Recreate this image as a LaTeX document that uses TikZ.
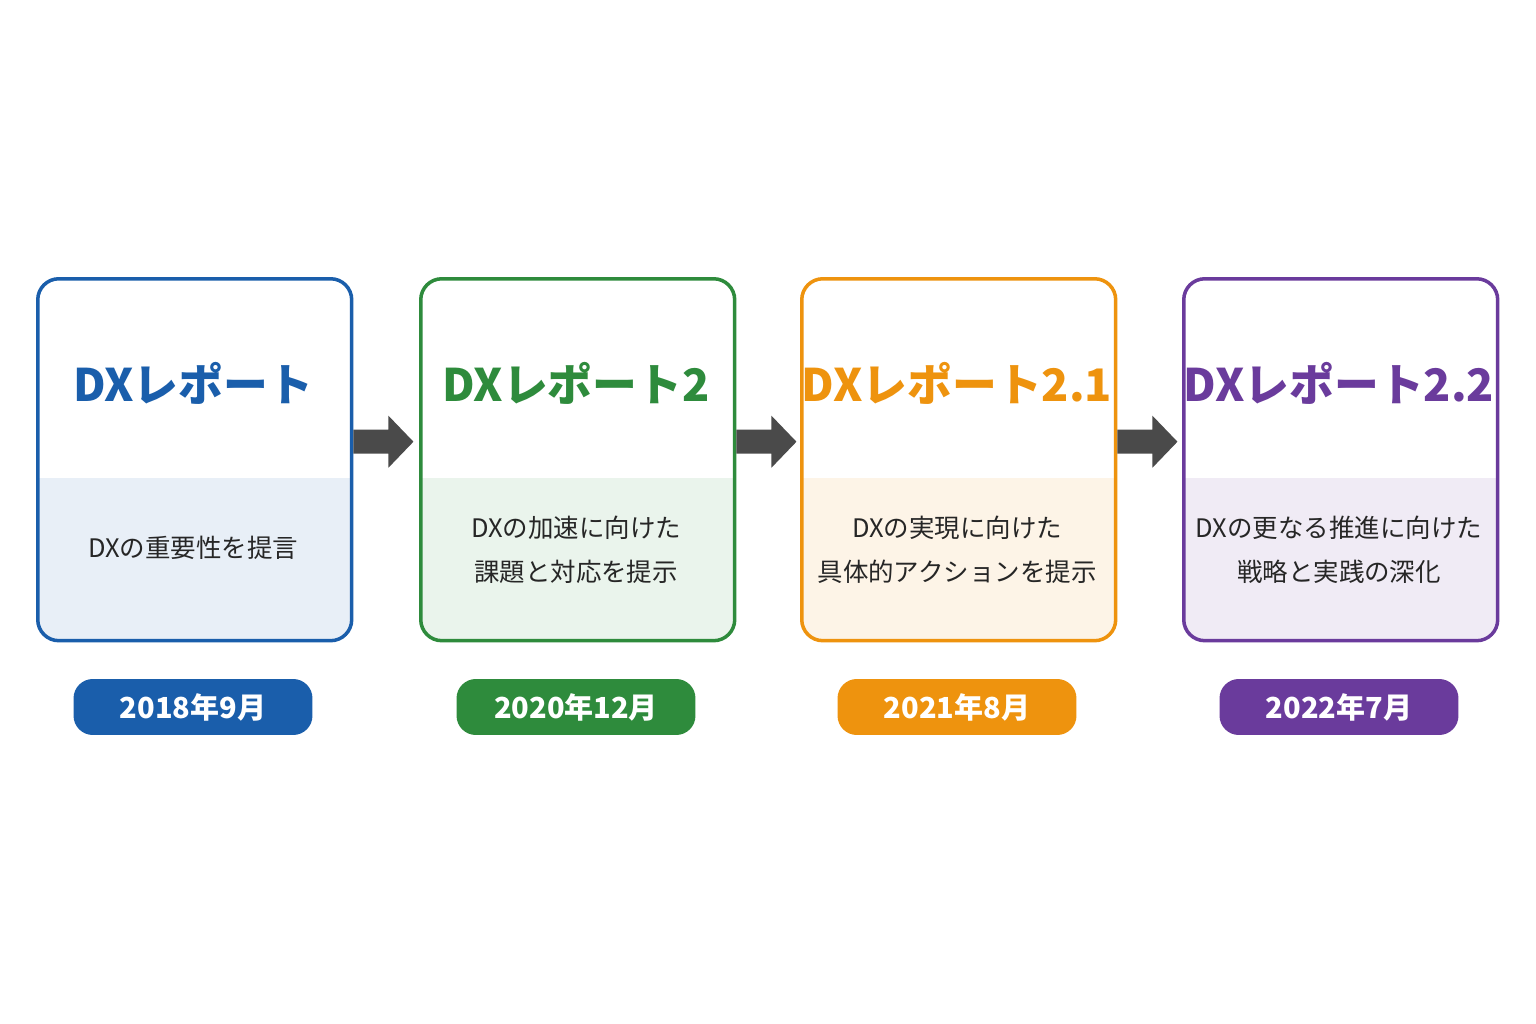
\documentclass[tikz,border=0pt]{standalone}
\usepackage{fontspec}
\setmainfont{Noto Sans CJK JP}
\usetikzlibrary{positioning}
\usetikzlibrary{calc}
\definecolor{cblue}{HTML}{1A5EAB}
\definecolor{cgreen}{HTML}{2E8B3C}
\definecolor{corange}{HTML}{EE930E}
\definecolor{cpurple}{HTML}{6A3B9C}
\definecolor{cgray}{HTML}{4A4A4A}
\tikzset{
  card/.style={rectangle, rounded corners=12pt, draw=#1, line width=2pt, minimum width=6.28cm, minimum height=7.24cm, anchor=north west},
  title/.style={text=#1, font=\bfseries\fontsize{25.5}{30}\selectfont},
  body/.style={align=center, font=\fontsize{14.5}{25}\selectfont, text=black!85},
  pill/.style={rectangle, rounded corners=11pt, fill=#1, text=white, minimum width=4.78cm, minimum height=1.12cm, font=\bfseries\fontsize{16.5}{20}\selectfont},
  nextarrow/.style={fill=cgray}
}
\begin{document}
\begin{tikzpicture}[x=0.02cm, y=-0.02cm]
\useasboundingbox[fill=white] (0,0) rectangle (1536,1024);

% cards
\foreach \c/\x in {cblue/36, cgreen/419, corange/800, cpurple/1182}{
  \begin{scope}
    \clip[rounded corners=12pt] (\x,277) rectangle ++(314,362);
    \fill[\c!10] (\x,478) rectangle ++(314,161);
  \end{scope}
}
\node[card=cblue] (r1) at (36,277) {};
\node[card=cgreen] (r2) at (419,277) {};
\node[card=corange] (r3) at (800,277) {};
\node[card=cpurple] (r4) at (1182,277) {};

% titles
\node[title=cblue] (t1) at (193,383) {DXレポート};
\node[title=cgreen] (t2) at (576,383) {DXレポート2};
\node[title=corange] (t3) at (957,383) {DXレポート2.1};
\node[title=cpurple] (t4) at (1339,383) {DXレポート2.2};

% descriptions
\node[body] (b1) at (193,548) {DXの重要性を提言};
\node[body] (b2) at (576,550) {DXの加速に向けた\\課題と対応を提示};
\node[body] (b3) at (957,550) {DXの実現に向けた\\具体的アクションを提示};
\node[body] (b4) at (1339,550) {DXの更なる推進に向けた\\戦略と実践の深化};

% dates
\node[pill=cblue] (d1) at (193,707) {2018年9月};
\node[pill=cgreen] (d2) at (576,707) {2020年12月};
\node[pill=corange] (d3) at (957,707) {2021年8月};
\node[pill=cpurple] (d4) at (1339,707) {2022年7月};

% arrows
\foreach \a in {r1,r2,r3}{
  \coordinate (s) at ([yshift=0.36cm]\a.east);
  \fill[nextarrow] ($(s)+(0,-12)$) -- ++(35,0) -- ++(0,-14) -- ($(s)+(60,0)$)
    -- ($(s)+(35,26)$) -- ++(0,-14) -- ($(s)+(0,12)$) -- cycle;
}

\end{tikzpicture}
\end{document}
